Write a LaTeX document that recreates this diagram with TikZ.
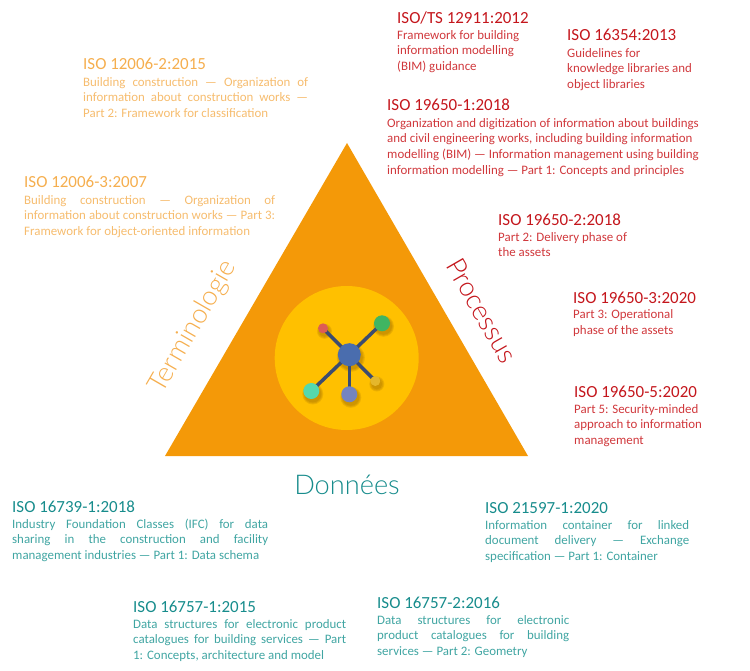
\documentclass[tikz,border=0pt]{standalone}
\usepackage{fontspec}
\setmainfont{Carlito}
\newfontfamily\lightf{Lato Light}
\newcommand{\J}[2]{\makebox[#1pt][s]{#2}}
\definecolor{triO}{HTML}{F49908}
\definecolor{discY}{HTML}{FFC000}
\definecolor{oT}{HTML}{F5AE4E}
\definecolor{oB}{HTML}{F6BC6E}
\definecolor{rT}{HTML}{C4161C}
\definecolor{rB}{HTML}{D0383C}
\definecolor{tT}{HTML}{178C8C}
\definecolor{tB}{HTML}{40A5A2}
\definecolor{spokeC}{HTML}{3C4C70}
\definecolor{shadowC}{HTML}{8A5A00}
\definecolor{dotHub}{HTML}{4A6DAE}
\definecolor{dotGreen}{HTML}{40B562}
\definecolor{dotRed}{HTML}{DD5C55}
\definecolor{dotYellow}{HTML}{E5B72B}
\definecolor{dotPurple}{HTML}{7484C0}
\definecolor{dotMint}{HTML}{55D8AC}
\tikzset{
  x=1pt,y=-1pt,
  ttl/.style={anchor=base west,inner sep=0pt,yshift=-1pt,font=\fontsize{16.95}{18}\selectfont},
  body/.style={anchor=north west,inner sep=0pt,align=left,font=\fontsize{12.9}{15.7}\selectfont},
  big/.style={inner sep=0pt,anchor=center},
  hubdot/.style={circle,inner sep=0pt,minimum size=#1},
  spoke/.style={draw=spokeC,line width=3.5pt},
}
\begin{document}
\begin{tikzpicture}
\useasboundingbox (0,0) rectangle (750,671);
\fill[triO] (347,143) -- (528,456) -- (165,456) -- cycle;
\fill[discY] (346.7,358) circle[radius=72];
% soft shadows
\foreach \cx/\cy/\r in {349.3/354.7/11.5,382/323.3/8,323/328.3/5,375.3/381/5,349.3/394.3/8,311.3/391/8}{
  \foreach \g in {2.5,1.5,0.5}{
    \fill[shadowC,opacity=0.16] (\cx+1.5,\cy+3) circle[radius=\r+\g];
  }
}
\node[hubdot=23pt] (hub) at (349.3,354.7) {};
\node[hubdot=16pt] (green) at (382,323.3) {};
\node[hubdot=10pt] (red) at (323,328.3) {};
\node[hubdot=10pt] (yellow) at (375.3,381) {};
\node[hubdot=16pt] (purple) at (349.3,394.3) {};
\node[hubdot=16pt] (mint) at (311.3,391) {};
\draw[spoke] (hub.center) -- (green.center);
\draw[spoke] (hub.center) -- (red.center);
\draw[spoke] (hub.center) -- (yellow.center);
\draw[spoke] (hub.center) -- (purple.center);
\draw[spoke] (hub.center) -- (mint.center);
\fill[dotHub] (hub.center) circle[radius=11.5];
\fill[dotGreen] (green.center) circle[radius=8];
\fill[dotRed] (red.center) circle[radius=5];
\fill[dotYellow] (yellow.center) circle[radius=5];
\fill[dotPurple] (purple.center) circle[radius=8];
\fill[dotMint] (mint.center) circle[radius=8];

\node[big,rotate=60,text=oT,font=\lightf\fontsize{27}{32}\selectfont] (terminologie) at (193.5,327) {Terminologie};
\node[big,rotate=-60,text=rT,font=\lightf\fontsize{27}{32}\selectfont] (processus) at (482,310.5) {Processus};
\node[big,text=tT,font=\lightf\fontsize{27.2}{36}\selectfont] (donnees) at (347,485) {Données};

\node[ttl,text=oT] (t1) at (83,69) {ISO 12006-2:2015};
\node[body,text=oB] (b1) at (83,76) {\rule{0pt}{10pt}\J{225}{Building construction — Organization of}\\\J{225}{information about construction works —}\\Part 2: Framework for classification};
\node[ttl,text=oT] (t2) at (24,187) {ISO 12006-3:2007};
\node[body,text=oB] (b2) at (24,194) {\rule{0pt}{10pt}\J{251}{Building construction — Organization of}\\\J{251}{information about construction works — Part 3:}\\Framework for object-oriented information};

\node[ttl,text=rT] (t3) at (397,22.7) {ISO/TS 12911:2012};
\node[body,text=rB] (b3) at (397,29) {\rule{0pt}{10pt}Framework for building\\information modelling\\(BIM) guidance};
\node[ttl,text=rT] (t4) at (567,40) {ISO 16354:2013};
\node[body,text=rB] (b4) at (567,47) {\rule{0pt}{10pt}Guidelines for\\knowledge libraries and\\object libraries};
\node[ttl,text=rT] (t5) at (387,110) {ISO 19650-1:2018};
\node[body,text=rB] (b5) at (387,117) {\rule{0pt}{10pt}Organization and digitization of information about buildings\\and civil engineering works, including building information\\modelling (BIM) — Information management using building\\information modelling — Part 1: Concepts and principles};
\node[ttl,text=rT] (t6) at (498,224.7) {ISO 19650-2:2018};
\node[body,text=rB] (b6) at (498,231) {\rule{0pt}{10pt}Part 2: Delivery phase of\\the assets};
\node[ttl,text=rT] (t7) at (573,302) {ISO 19650-3:2020};
\node[body,text=rB] (b7) at (573,308.5) {\rule{0pt}{10pt}Part 3: Operational\\phase of the assets};
\node[ttl,text=rT] (t8) at (574,396.5) {ISO 19650-5:2020};
\node[body,text=rB] (b8) at (574,403) {\rule{0pt}{10pt}Part 5: Security-minded\\approach to information\\management};

\node[ttl,text=tT] (t9) at (12,511.7) {ISO 16739-1:2018};
\node[body,text=tB] (b9) at (12,518) {\rule{0pt}{10pt}\J{256}{Industry Foundation Classes (IFC) for data}\\\J{256}{sharing in the construction and facility}\\management industries — Part 1: Data schema};
\node[ttl,text=tT] (t10) at (133,611.7) {ISO 16757-1:2015};
\node[body,text=tB] (b10) at (133,618) {\rule{0pt}{10pt}\J{213}{Data structures for electronic product}\\\J{213}{catalogues for building services — Part}\\1: Concepts, architecture and model};
\node[ttl,text=tT] (t11) at (485,512.3) {ISO 21597-1:2020};
\node[body,text=tB] (b11) at (485,519) {\rule{0pt}{10pt}\J{204}{Information container for linked}\\\J{204}{document delivery — Exchange}\\specification — Part 1: Container};
\node[ttl,text=tT] (t12) at (377,607.7) {ISO 16757-2:2016};
\node[body,text=tB] (b12) at (377,614) {\rule{0pt}{10pt}\J{192}{Data structures for electronic}\\\J{192}{product catalogues for building}\\services — Part 2: Geometry};
\end{tikzpicture}
\end{document}
